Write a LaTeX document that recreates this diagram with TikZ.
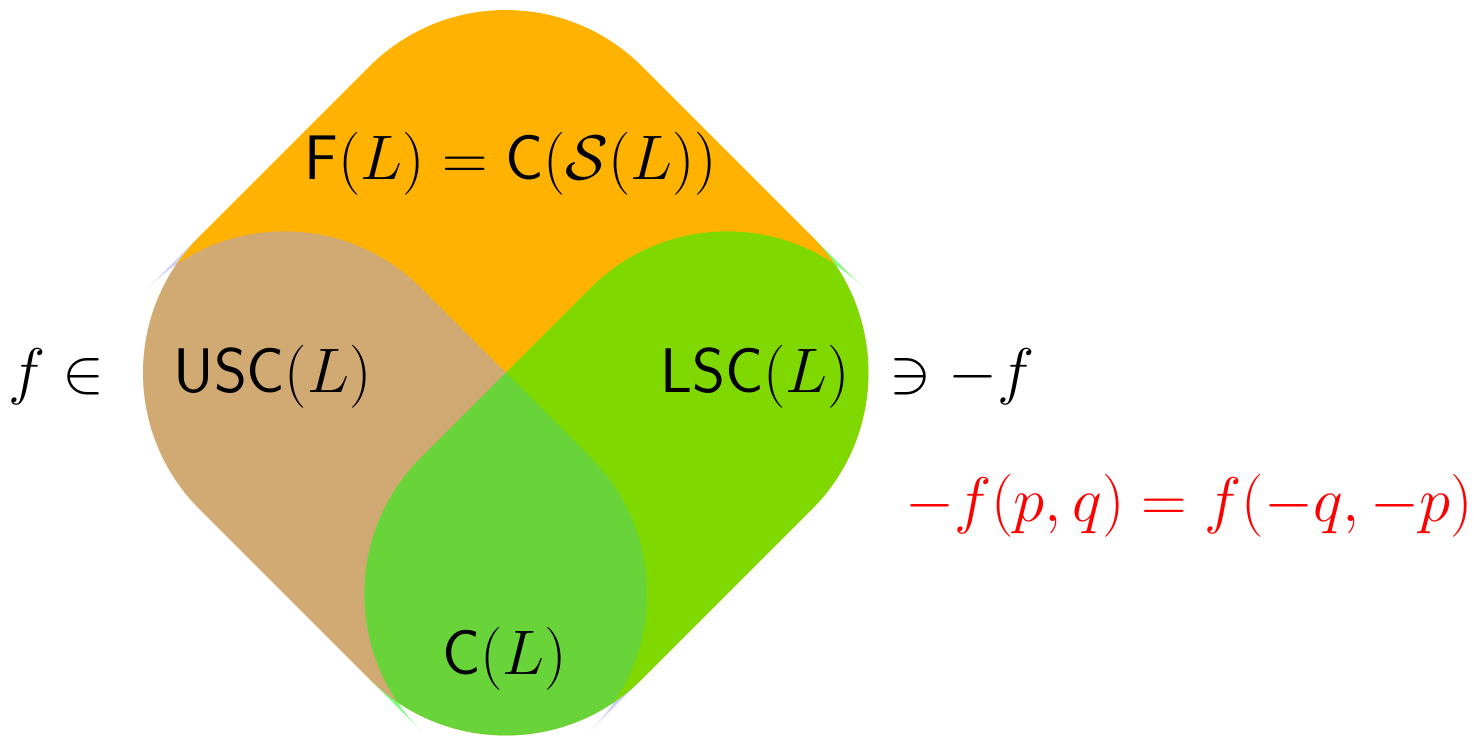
\RequirePackage{fix-cm}
\documentclass[tikz,border=0pt]{standalone}
\definecolor{orangeF}{RGB}{255,179,0}
\definecolor{uscB}{RGB}{165,161,230}
\definecolor{lscG}{RGB}{0,255,0}
\begin{document}
\begin{tikzpicture}[x=0.5pt,y=-0.5pt,
  lbl/.style={font=\fontsize{31.5}{38}\selectfont, inner sep=0pt, anchor=base},
  veil/.style={fill opacity=0.5}]
\useasboundingbox (0,0) rectangle (1474,737);
% rotated frame: U up-right, V down-right, origin at the centre of the diamond
\begin{scope}[shift={(252.875pt,-186.375pt)}, x={(0.35355pt,0.35355pt)}, y={(0.35355pt,-0.35355pt)}]
% F(L): whole square, corners rounded (r = 193)
\fill[orangeF] (-313,120) -- (-313,-120) .. controls (-313,-226.6) and (-226.6,-313) .. (-120,-313)
  -- (120,-313) .. controls (226.6,-313) and (313,-226.6) .. (313,-120)
  -- (313,120) .. controls (313,226.6) and (226.6,313) .. (120,313)
  -- (-120,313) .. controls (-226.6,313) and (-313,226.6) .. (-313,120) -- cycle;
% USC(L): left half, same corner radius
\fill[uscB, veil] (-313,120) -- (-313,-120) .. controls (-313,-226.6) and (-226.6,-313) .. (-120,-313)
  -- (-193,-313) .. controls (-86.4,-313) and (0,-226.6) .. (0,-120)
  -- (0,120) .. controls (0,226.6) and (-86.4,313) .. (-193,313)
  -- (-120,313) .. controls (-226.6,313) and (-313,226.6) .. (-313,120) -- cycle;
% LSC(L): lower half, same corner radius
\fill[lscG, veil] (-313,120) -- (-313,193) .. controls (-313,86.4) and (-226.6,0) .. (-120,0)
  -- (120,0) .. controls (226.6,0) and (313,86.4) .. (313,193)
  -- (313,120) .. controls (313,226.6) and (226.6,313) .. (120,313)
  -- (-120,313) .. controls (-226.6,313) and (-313,226.6) .. (-313,120) -- cycle;
\end{scope}
% labels
\node[lbl] (ftext) at (511,180) {$\mathsf{F}(L)=\mathsf{C}(\mathcal{S}(L))$};
\node[lbl] (usc) at (272.5,393) {$\mathsf{USC}(L)$};
\node[lbl] (lsc) at (755,393) {$\mathsf{LSC}(L)$};
\node[lbl] (cl) at (505,675) {$\mathsf{C}(L)$};
\node[lbl] (fin) at (56.5,393) {$f\in$};
\node[lbl] (nif) at (962,393) {$\ni -f$};
\node[lbl, text=red] (eq) at (1189,522) {$-f(p,q)=f(-q,-p)$};
\end{tikzpicture}
\end{document}
